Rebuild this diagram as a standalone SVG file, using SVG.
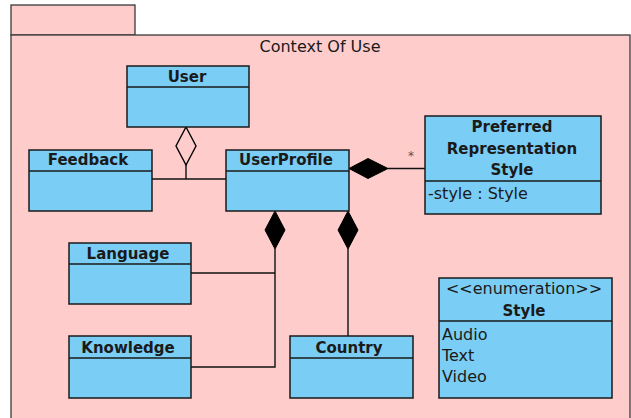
<svg xmlns="http://www.w3.org/2000/svg" width="631" height="418" viewBox="0 0 631 418">
<style>
.pkg{fill:#ffcccc;stroke:#3a3a3a;stroke-width:1.3}
.box{fill:#7acdf4;stroke:#1a1a1a;stroke-width:1.5}
.div{stroke:#1a1a1a;stroke-width:1.5}
.hd{font-family:"DejaVu Sans",sans-serif;font-weight:bold;font-size:15px;fill:#1a1a1a;text-anchor:middle}
.tx{font-family:"DejaVu Sans",sans-serif;font-size:16px;fill:#1a1a1a}
.ln{stroke:#111;stroke-width:1.4;fill:none}
.comp{fill:#000;stroke:#000;stroke-width:1}
.agg{fill:none;stroke:#000;stroke-width:1.4}
</style>
<rect width="631" height="418" fill="#fff"/>
<g id="package">
<rect class="pkg" x="11" y="5" width="124" height="30"/>
<rect class="pkg" x="11" y="35" width="619" height="390"/>
<text class="tx" x="320" y="52" text-anchor="middle">Context Of Use</text>
</g>
<g id="connectors">
<polyline class="ln" points="186,165 186,179"/>
<polyline class="ln" points="152,179 226,179"/>
<polygon class="agg" points="186,127 196,146 186,165 176,146"/>
<line class="ln" x1="388" y1="168.5" x2="425" y2="168.5"/>
<polygon class="comp" points="349,168.5 368,158.5 388,168.5 368,178.5"/>
<text x="411" y="160" font-family="DejaVu Sans,sans-serif" font-size="12" fill="#555" text-anchor="middle">*</text>
<polyline class="ln" points="275,249 275,367 191,367"/>
<line class="ln" x1="191" y1="273" x2="275" y2="273"/>
<polygon class="comp" points="275,211 285,230 275,249 265,230"/>
<line class="ln" x1="348" y1="249" x2="348" y2="336"/>
<polygon class="comp" points="348,211 358,230 348,249 338,230"/>
</g>
<g id="User">
<rect class="box" x="127" y="66" width="122" height="61"/>
<line class="div" x1="127" y1="87" x2="249" y2="87"/>
<text class="hd" x="187" y="82">User</text>
</g>
<g id="Feedback">
<rect class="box" x="29" y="150" width="123" height="61"/>
<line class="div" x1="29" y1="171" x2="152" y2="171"/>
<text class="hd" x="88" y="165">Feedback</text>
</g>
<g id="UserProfile">
<rect class="box" x="226" y="150" width="123" height="61"/>
<line class="div" x1="226" y1="171" x2="349" y2="171"/>
<text class="hd" x="286" y="165">UserProfile</text>
</g>
<g id="PreferredRepresentationStyle">
<rect class="box" x="425" y="116" width="176" height="98"/>
<line class="div" x1="425" y1="181" x2="601" y2="181"/>
<text class="hd" x="512" y="132">Preferred</text>
<text class="hd" x="512" y="154">Representation</text>
<text class="hd" x="512" y="175">Style</text>
<text class="tx" x="428" y="199">-style : Style</text>
</g>
<g id="Language">
<rect class="box" x="69" y="243" width="122" height="61"/>
<line class="div" x1="69" y1="264" x2="191" y2="264"/>
<text class="hd" x="128" y="259">Language</text>
</g>
<g id="Knowledge">
<rect class="box" x="69" y="336" width="122" height="62"/>
<line class="div" x1="69" y1="358" x2="191" y2="358"/>
<text class="hd" x="128" y="353">Knowledge</text>
</g>
<g id="Country">
<rect class="box" x="290" y="336" width="123" height="62"/>
<line class="div" x1="290" y1="358" x2="413" y2="358"/>
<text class="hd" x="349" y="353">Country</text>
</g>
<g id="StyleEnum">
<rect class="box" x="439" y="278" width="173" height="120"/>
<line class="div" x1="439" y1="321" x2="612" y2="321"/>
<text class="tx" x="524" y="294" text-anchor="middle">&lt;&lt;enumeration&gt;&gt;</text>
<text class="hd" x="524" y="316">Style</text>
<text class="tx" x="442" y="340">Audio</text>
<text class="tx" x="442" y="361">Text</text>
<text class="tx" x="442" y="382">Video</text>
</g>
</svg>
